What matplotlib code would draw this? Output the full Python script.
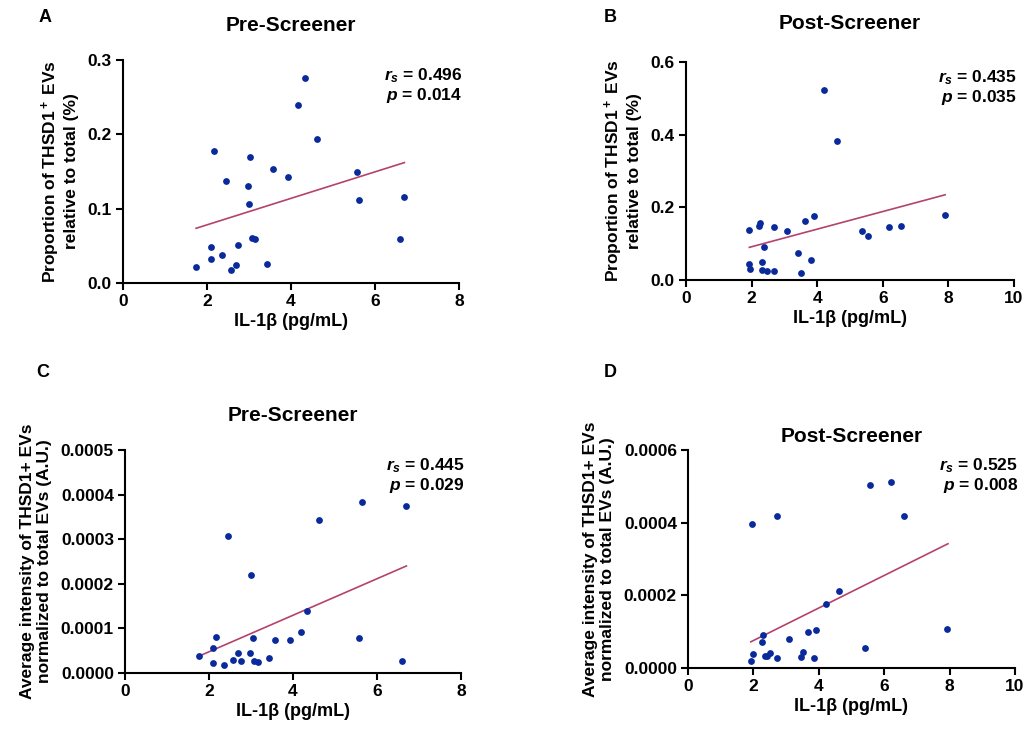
import numpy as np
import matplotlib
matplotlib.use("Agg")
import matplotlib.pyplot as plt

plt.rcParams['font.family'] = ['Liberation Sans', 'DejaVu Sans']
plt.rcParams['font.weight'] = 'bold'
plt.rcParams['mathtext.fontset'] = 'custom'
plt.rcParams['mathtext.it'] = 'Liberation Sans:italic:bold'
plt.rcParams['mathtext.rm'] = 'Liberation Sans:bold'
plt.rcParams['mathtext.bf'] = 'Liberation Sans:bold'

# DATA
# panel A: pre-screener, proportion (%)
a_x = [1.74, 2.10, 2.10, 2.16, 2.36, 2.45, 2.58, 2.68, 2.73, 2.98, 3.00, 3.03,
       3.08, 3.15, 3.44, 3.56, 3.93, 4.17, 4.34, 4.61, 5.56, 5.63, 6.59, 6.69]
a_y = [0.022, 0.049, 0.032, 0.177, 0.037, 0.137, 0.017, 0.024, 0.051, 0.131, 0.106, 0.170,
       0.060, 0.059, 0.025, 0.153, 0.142, 0.239, 0.276, 0.194, 0.149, 0.111, 0.059, 0.116]
# panel B: post-screener, proportion (%)
b_x = [1.93, 1.93, 1.96, 2.23, 2.27, 2.32, 2.32, 2.37, 2.47, 2.69, 2.69, 3.08,
       3.42, 3.52, 3.64, 3.81, 3.89, 4.20, 4.61, 5.38, 5.55, 6.20, 6.57, 7.90]
b_y = [0.137, 0.045, 0.029, 0.148, 0.158, 0.049, 0.027, 0.091, 0.025, 0.025, 0.147, 0.135,
       0.075, 0.020, 0.162, 0.055, 0.176, 0.523, 0.382, 0.134, 0.121, 0.145, 0.149, 0.179]
# panel C: pre-screener, average intensity (A.U.)
c_x = [1.75, 2.10, 2.10, 2.17, 2.36, 2.46, 2.58, 2.68, 2.75, 2.98, 3.00, 3.05,
       3.08, 3.17, 3.44, 3.56, 3.94, 4.18, 4.33, 4.62, 5.56, 5.64, 6.60, 6.70]
c_y = [0.39e-4, 0.56e-4, 0.22e-4, 0.81e-4, 0.17e-4, 3.07e-4, 0.29e-4, 0.45e-4, 0.27e-4, 0.45e-4,
       2.20e-4, 0.79e-4, 0.28e-4, 0.24e-4, 0.34e-4, 0.74e-4, 0.73e-4, 0.92e-4, 1.39e-4, 3.43e-4,
       0.78e-4, 3.83e-4, 0.28e-4, 3.74e-4]
# panel D: post-screener, average intensity (A.U.)
d_x = [1.93, 1.96, 1.99, 2.25, 2.29, 2.34, 2.41, 2.51, 2.71, 2.72, 3.10, 3.45,
       3.53, 3.66, 3.84, 3.92, 4.22, 4.63, 5.40, 5.58, 6.22, 6.60, 7.92]
d_y = [0.18e-4, 3.97e-4, 0.38e-4, 0.71e-4, 0.91e-4, 0.34e-4, 0.32e-4, 0.40e-4, 0.27e-4, 4.17e-4,
       0.80e-4, 0.29e-4, 0.45e-4, 0.99e-4, 0.27e-4, 1.05e-4, 1.76e-4, 2.13e-4, 0.54e-4, 5.03e-4,
       5.12e-4, 4.19e-4, 1.08e-4]

# fitted lines as they appear in the figure (x start/end, y start/end)
a_fit = ([1.74, 6.70], [0.0736, 0.162])
b_fit = ([1.93, 7.90], [0.0898, 0.2345])
c_fit = ([1.79, 6.70], [0.39e-4, 2.40e-4])
d_fit = ([1.92, 7.95], [0.72e-4, 3.42e-4])

stats = [("0.496", "0.014"), ("0.435", "0.035"), ("0.445", "0.029"), ("0.525", "0.008")]

lab_prop = "Proportion of THSD1$^+$ EVs\nrelative to total (%)"
lab_int = "Average intensity of THSD1+ EVs\nnormalized to total EVs (A.U.)"

dot_col = '#0a2a9c'
line_col = '#b5426e'

W, H = 1026, 736
fig = plt.figure(figsize=(W / 100, H / 100), dpi=100)


def px_axes(l, t, r, b):
    return fig.add_axes([l / W, 1 - b / H, (r - l) / W, (b - t) / H])


panels = [
    (px_axes(123, 60, 459, 283), a_x, a_y, a_fit, "Pre-Screener", lab_prop, 8, 0.3, 0.1, "%.1f", 21),
    (px_axes(686, 62, 1014, 280), b_x, b_y, b_fit, "Post-Screener", lab_prop, 10, 0.6, 0.2, "%.1f", 24),
    (px_axes(125, 450, 461, 673), c_x, c_y, c_fit, "Pre-Screener", lab_int, 8, 0.0005, 0.0001, "%.4f", 21),
    (px_axes(688, 450, 1015, 668), d_x, d_y, d_fit, "Post-Screener", lab_int, 10, 0.0006, 0.0002, "%.4f", 6),
]

for i, (ax, x, y, fit, title, ylab, xmax, ymax, ystep, fmt, pad) in enumerate(panels):
    ax.scatter(x, y, s=24, color=dot_col, zorder=3, linewidths=0, clip_on=False)
    ax.plot(fit[0], fit[1], color=line_col, lw=1.2, zorder=2)
    ax.set_xlim(0, xmax)
    ax.set_ylim(0, ymax)
    ax.set_xticks(np.arange(0, xmax + 0.01, 2))
    ax.set_yticks(np.arange(0, ymax + ystep / 2, ystep))
    ax.yaxis.set_major_formatter(matplotlib.ticker.FormatStrFormatter(fmt))
    for s in ['top', 'right']:
        ax.spines[s].set_visible(False)
    for s in ['left', 'bottom']:
        ax.spines[s].set_linewidth(1.5)
    ax.tick_params(width=1.5, length=5, labelsize=12.5, pad=3)
    for t in ax.get_xticklabels() + ax.get_yticklabels():
        t.set_fontweight('bold')
    ax.set_title(title, fontsize=15, fontweight='bold', pad=pad)
    ax.set_xlabel("IL-1β (pg/mL)", fontsize=13, fontweight='bold', labelpad=3)
    ax.set_ylabel(ylab, fontsize=12.5, fontweight='bold', labelpad=6)
    r, p = stats[i]
    ax.text(1.01, 0.97, "$r_s$ = " + r + "\n$p$ = " + p, transform=ax.transAxes,
            ha='right', va='top', fontsize=12.5, fontweight='bold', linespacing=1.05)

for lab, xp, yp in [("A", 45, 18), ("B", 610, 18), ("C", 43, 373), ("D", 610, 373)]:
    fig.text(xp / W, 1 - yp / H, lab, fontsize=13, fontweight='bold', ha='center', va='center')

fig.savefig("out.png", dpi=100)
